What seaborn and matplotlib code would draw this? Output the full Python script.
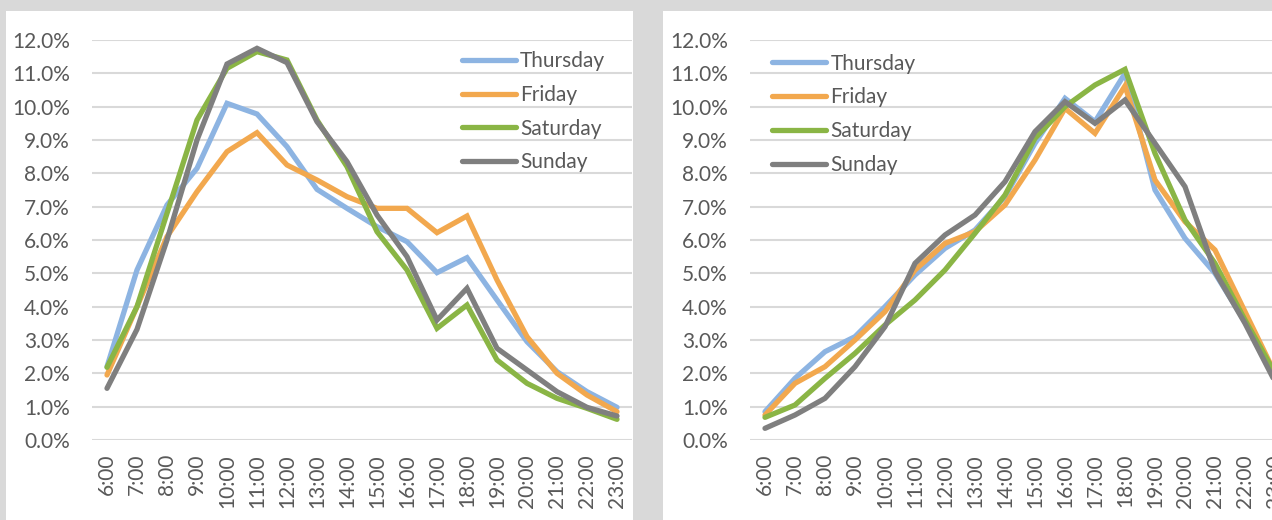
import matplotlib
matplotlib.use("Agg")
import matplotlib.pyplot as plt
import seaborn as sns
import pandas as pd
from matplotlib.patches import Rectangle

hours = ["6:00", "7:00", "8:00", "9:00", "10:00", "11:00", "12:00", "13:00", "14:00",
         "15:00", "16:00", "17:00", "18:00", "19:00", "20:00", "21:00", "22:00", "23:00"]
days = ["Thursday", "Friday", "Saturday", "Sunday"]

# Left panel (%)
left_thursday = [2.2, 5.1, 7.05, 8.15, 10.1, 9.78, 8.8, 7.52, 6.95, 6.4, 5.95, 5.02, 5.47, 4.2, 2.95, 2.05, 1.45, 0.98]
left_friday = [1.95, 4.0, 6.1, 7.45, 8.65, 9.22, 8.25, 7.8, 7.3, 6.95, 6.95, 6.22, 6.72, 4.8, 3.1, 2.0, 1.35, 0.85]
left_saturday = [2.18, 4.0, 6.8, 9.6, 11.15, 11.65, 11.4, 9.6, 8.2, 6.25, 5.1, 3.35, 4.05, 2.4, 1.7, 1.25, 0.95, 0.62]
left_sunday = [1.55, 3.32, 6.0, 9.0, 11.28, 11.75, 11.32, 9.55, 8.35, 6.75, 5.5, 3.6, 4.55, 2.75, 2.1, 1.45, 0.98, 0.72]

# Right panel (%)
right_thursday = [0.85, 1.85, 2.65, 3.1, 4.0, 4.95, 5.75, 6.3, 7.3, 8.9, 10.25, 9.55, 11.0, 7.5, 6.05, 5.0, 3.55, 1.9]
right_friday = [0.75, 1.7, 2.2, 3.0, 3.85, 5.1, 5.9, 6.25, 7.05, 8.4, 9.95, 9.2, 10.62, 7.8, 6.55, 5.7, 3.85, 2.0]
right_saturday = [0.68, 1.05, 1.85, 2.6, 3.45, 4.2, 5.1, 6.2, 7.35, 9.05, 10.0, 10.65, 11.12, 8.6, 6.6, 5.3, 3.6, 2.0]
right_sunday = [0.35, 0.75, 1.25, 2.2, 3.4, 5.3, 6.15, 6.75, 7.75, 9.25, 10.15, 9.5, 10.2, 8.9, 7.6, 5.05, 3.5, 1.75]

y_ticks = list(range(0, 13))

palette = {"Thursday": "#8DB4E2", "Friday": "#F2A84E", "Saturday": "#8AB545", "Sunday": "#7F7F7F"}
text_color = "#595959"
grid_color = "#D9D9D9"

sns.set_theme(style="white")
plt.rcParams["font.family"] = ["Lato", "DejaVu Sans"]


def long_df(series):
    rows = []
    for day, vals in zip(days, series):
        for h, v in zip(hours, vals):
            rows.append({"hour": h, "share": v, "day": day})
    return pd.DataFrame(rows)


W, H = 1272, 520
fig = plt.figure(figsize=(W / 100, H / 100), dpi=100)
fig.patch.set_facecolor("#D9D9D9")
fig.patches.append(Rectangle((6 / W, 0), (633 - 6) / W, (H - 11) / H, transform=fig.transFigure,
                             facecolor="white", edgecolor="none", zorder=-10))
fig.patches.append(Rectangle((663 / W, 0), (1300 - 663) / W, (H - 11) / H, transform=fig.transFigure,
                             facecolor="white", edgecolor="none", zorder=-10))

axL = fig.add_axes([92 / W, 80 / H, 540 / W, 400 / H])
axR = fig.add_axes([750 / W, 80 / H, 540 / W, 400 / H])

FS = 15

panels = [
    (axL, [left_thursday, left_friday, left_saturday, left_sunday], (0.685, 0.972)),
    (axR, [right_thursday, right_friday, right_saturday, right_sunday], (0.041, 0.966)),
]

for ax, series, leg_pos in panels:
    ax.set_zorder(5)
    df = long_df(series)
    ax.set_facecolor("none")
    sns.lineplot(data=df, x="hour", y="share", hue="day", hue_order=days, palette=palette,
                 sort=False, linewidth=3.8, ax=ax, solid_capstyle="round", solid_joinstyle="miter")
    ax.set_xlim(-0.5, len(hours) - 0.5)
    ax.set_ylim(0, 12)
    ax.set_yticks(y_ticks)
    ax.set_yticklabels([f"{v:.1f}%" for v in y_ticks])
    ax.set_xticks(range(len(hours)))
    ax.set_xticklabels(hours, rotation=90)
    ax.grid(axis="y", color=grid_color, linewidth=1.5)
    ax.grid(axis="x", visible=False)
    ax.set_axisbelow(True)
    for s in ax.spines.values():
        s.set_visible(False)
    ax.tick_params(axis="both", length=0, labelsize=FS, colors=text_color)
    ax.tick_params(axis="y", pad=16)
    ax.tick_params(axis="x", pad=10)
    ax.set_xlabel("")
    ax.set_ylabel("")
    leg = ax.legend(loc="upper left", bbox_to_anchor=leg_pos, frameon=False, fontsize=FS,
                    handlelength=2.6, handletextpad=0.2, labelspacing=0.66,
                    borderpad=0, borderaxespad=0)
    for t in leg.get_texts():
        t.set_color(text_color)
    for l in leg.get_lines():
        l.set_linewidth(3.8)
        l.set_solid_capstyle("round")

fig.savefig("out.png", dpi=100, facecolor=fig.get_facecolor())
